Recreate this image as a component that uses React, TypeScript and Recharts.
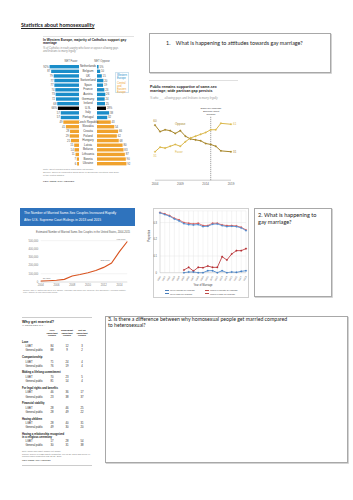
import React from 'react';
import { BarChart, Bar, XAxis, YAxis, Cell, LabelList, LineChart, Line, ReferenceLine, CartesianGrid } from 'recharts';

// Catholics in Europe / US: favor vs oppose same-sex marriage
const countries = ['Netherlands', 'Belgium', 'UK', 'Switzerland', 'Spain', 'France', 'Austria', 'Germany', 'Ireland', 'U.S.', 'Italy', 'Portugal', 'Czech Republic', 'Slovakia', 'Croatia', 'Poland', 'Hungary', 'Latvia', 'Belarus', 'Lithuania', 'Bosnia', 'Ukraine'];
const netFavor = [92, 87, 79, 77, 77, 74, 73, 72, 68, 66, 57, 57, 49, 41, 28, 29, 25, 15, 14, 11, 7, 6];
const netOppose = [5, 10, 15, 20, 19, 23, 26, 24, 25, 28, 38, 32, 43, 54, 66, 62, 68, 80, 83, 87, 90, 92];
const regionOf = ['W', 'W', 'W', 'W', 'W', 'W', 'W', 'W', 'W', 'US', 'W', 'W', 'E', 'E', 'E', 'E', 'E', 'E', 'E', 'E', 'E', 'E'];

// US public opinion trend
const pewYears = [2004, 2005, 2006, 2007, 2008, 2009, 2010, 2011, 2012, 2013, 2014, 2015, 2016, 2017, 2019];
const favorTrend = [31, 36, 35, 37, 39, 37, 42, 46, 48, 50, 52, 55, 55, 62, 61];
const opposeTrend = [60, 53, 55, 54, 51, 54, 48, 45, 44, 43, 40, 39, 37, 32, 31];

// married same-sex couples in the US
const marriageYears = [2004, 2005, 2006, 2007, 2008, 2009, 2010, 2011, 2012, 2013, 2014, 2015];
const marriedCouples = [10000, 15000, 22000, 32000, 73000, 90000, 113000, 140000, 177000, 230000, 367000, 490000];
const labelledYears = [2004, 2013, 2015];

// proportions by year of marriage
const ukYears = [2000, 2001, 2002, 2003, 2004, 2005, 2006, 2007, 2008, 2009, 2010, 2011, 2012, 2013, 2014, 2015, 2016, 2017, 2018];
const menOpposite = [0.358, 0.348, 0.338, 0.322, 0.31, 0.294, 0.288, 0.286, 0.288, 0.276, 0.278, 0.29, 0.292, 0.282, 0.276, 0.278, 0.276, 0.268, 0.252];
const womenOpposite = [0.36, 0.352, 0.342, 0.326, 0.316, 0.3, 0.296, 0.292, 0.296, 0.282, 0.282, 0.296, 0.296, 0.286, 0.282, 0.282, 0.28, 0.272, 0.256];
const menSame = [null, null, null, null, null, 0, 0.004, 0.004, 0, 0, 0.012, 0.012, 0, 0.012, 0, 0.004, 0.002, 0.008, 0.012];
const womenSame = [null, null, null, null, null, 0.016, 0.032, 0.01, 0.032, 0.03, 0.04, 0.032, 0.032, 0.096, 0.076, 0.112, 0.132, 0.132, 0.144];
const ukTicks = [0, 0.1, 0.2, 0.3];

// Why get married? table
const reasons = ['Love', 'Companionship', 'Making a lifelong commitment', 'For legal rights and benefits', 'Financial stability', 'Having children', 'Having a relationship recognized|in a religious ceremony'];
const lgbtVery = [84, 71, 70, 46, 28, 28, 17];
const lgbtSomewhat = [12, 24, 23, 36, 46, 40, 28];
const lgbtNot = [3, 4, 5, 17, 25, 31, 54];
const publicVery = [88, 76, 81, 23, 28, 49, 30];
const publicSomewhat = [9, 19, 14, 38, 49, 30, 31];
const publicNot = [2, 4, 4, 37, 22, 20, 38];

const BLUE = '#1a8dc9';
const ORANGE = '#f0a22d';
const OPPOSE = '#a7862a';
const FAVOR = '#dbb84b';
const W_FONT = 'Lato, "Open Sans", sans-serif';
const C_FONT = '"Liberation Sans", Arial, sans-serif';

const barData = countries.map((c, i) => ({
  country: c,
  favor: netFavor[i],
  oppose: netOppose[i],
  favorLabel: i === 0 || c === 'U.S.' ? netFavor[i] + '%' : String(netFavor[i]),
  opposeLabel: i === 0 || c === 'U.S.' ? netOppose[i] + '%' : String(netOppose[i]),
}));
const barColor = (r: string) => (r === 'W' ? BLUE : r === 'E' ? ORANGE : '#000');

const pewData = pewYears.map((y, i) => ({ year: y, favor: favorTrend[i], oppose: opposeTrend[i] }));
const marriageData = marriageYears.map((y, i) => ({ year: y, couples: marriedCouples[i] }));
const ukData = ukYears.map((y, i) => ({ year: y, mo: menOpposite[i], wo: womenOpposite[i], ms: menSame[i], ws: womenSame[i] }));

const box = (p: any) => {
  const vb = p.viewBox || {};
  return { x: vb.x ?? p.x, y: vb.y ?? p.y, w: vb.width ?? p.width ?? 0, h: vb.height ?? p.height ?? 0 };
};

function T({ x, y, size, color = '#222', bold = false, font = W_FONT, lh = 1.2, align = 'left', w, style, children }: any) {
  const lineH = size * lh;
  const st: React.CSSProperties = {
    position: 'absolute', top: y - lineH / 2, fontSize: size, lineHeight: lineH + 'px', color,
    fontWeight: bold ? 700 : 400, fontFamily: font, whiteSpace: 'nowrap', textAlign: align as any, ...style,
  };
  if (align === 'center') { st.left = x - (w ?? 60) / 2; st.width = w ?? 60; }
  else if (align === 'right') { st.left = x - (w ?? 60); st.width = w ?? 60; }
  else st.left = x;
  return <div style={st}>{children}</div>;
}

function CountryTick(props: any) {
  return (
    <text x={9} y={props.y} textAnchor="middle" dominantBaseline="central" fontSize={3} fill="#444" fontFamily={C_FONT}>
      {props.payload.value}
    </text>
  );
}

function YearTick(props: any) {
  return (
    <g transform={`translate(${props.x},${props.y})`}>
      <text transform="rotate(-60)" textAnchor="end" dominantBaseline="central" fontSize={2.3} fill="#555" fontFamily={C_FONT}>
        {props.payload.value}
      </text>
    </g>
  );
}

function CatholicChart() {
  return (
    <>
      <div style={{ position: 'absolute', left: 43, top: 35.5, width: 91, height: 1, background: '#e2e2e2' }} />
      <T x={43} y={40.5} size={3.3} bold font={C_FONT}>In Western Europe, majority of Catholics support gay</T>
      <T x={43} y={44.3} size={3.3} bold font={C_FONT}>marriage</T>
      <T x={43} y={48.6} size={2.6} color="#888" font={C_FONT} style={{ fontStyle: 'italic' }}>% of Catholics in each country who favor or oppose allowing gays</T>
      <T x={43} y={51.6} size={2.6} color="#888" font={C_FONT} style={{ fontStyle: 'italic' }}>and lesbians to marry legally</T>
      <T x={71} y={61.7} size={2.7} color="#555" font={C_FONT} align="center" w={20}>NET Favor</T>
      <T x={102} y={61.7} size={2.7} color="#555" font={C_FONT} align="center" w={20}>NET Oppose</T>

      <div style={{ position: 'absolute', left: 37, top: 64.4 }}>
        <BarChart layout="vertical" width={42} height={101.6} data={barData} margin={{ top: 0, right: 0, bottom: 0, left: 10 }}>
          <XAxis type="number" domain={[0, 100]} reversed hide />
          <YAxis type="category" dataKey="country" hide />
          <Bar dataKey="favor" barSize={3.4} isAnimationActive={false}>
            {barData.map((d, i) => <Cell key={d.country} fill={barColor(regionOf[i])} />)}
            <LabelList dataKey="favorLabel" content={(p: any) => {
              const b = box(p);
              return <text x={Math.min(b.x, b.x + b.w) - 0.8} y={b.y + b.h / 2} textAnchor="end" dominantBaseline="central" fontSize={2.8} fill="#555" fontFamily={C_FONT}>{p.value}</text>;
            }} />
          </Bar>
        </BarChart>
      </div>

      <div style={{ position: 'absolute', left: 79, top: 64.4 }}>
        <BarChart layout="vertical" width={61} height={101.6} data={barData} margin={{ top: 0, right: 11, bottom: 0, left: 0 }}>
          <XAxis type="number" domain={[0, 100]} hide />
          <YAxis type="category" dataKey="country" width={18} tick={CountryTick} tickLine={false} axisLine={false} interval={0} />
          <Bar dataKey="oppose" barSize={3.4} isAnimationActive={false}>
            {barData.map((d, i) => <Cell key={d.country} fill={barColor(regionOf[i])} />)}
            <LabelList dataKey="opposeLabel" content={(p: any) => {
              const b = box(p);
              return <text x={Math.max(b.x, b.x + b.w) + 0.8} y={b.y + b.h / 2} textAnchor="start" dominantBaseline="central" fontSize={2.8} fill="#555" fontFamily={C_FONT}>{p.value}</text>;
            }} />
          </Bar>
        </BarChart>
      </div>

      <div style={{ position: 'absolute', left: 115, top: 72, width: 14, height: 21, border: '0.5px solid #cfe3ef', boxSizing: 'border-box', padding: '1px 1px' }}>
        <div style={{ fontSize: 2.7, lineHeight: '3px', color: BLUE, fontFamily: C_FONT }}>Western<br />Europe</div>
        <div style={{ fontSize: 2.7, lineHeight: '3px', color: ORANGE, fontFamily: C_FONT, marginTop: 2 }}>Central<br />and Eastern<br />Europe</div>
      </div>

      <T x={43} y={170} size={2.4} color="#888" font={C_FONT}>Note: Don't know/refused responses not shown.</T>
      <T x={43} y={173} size={2.4} color="#888" font={C_FONT}>Source: Surveys conducted 2015-2017 in European countries and 2016</T>
      <T x={43} y={176} size={2.4} color="#888" font={C_FONT}>in the United States.</T>
      <T x={43} y={181.5} size={2.5} color="#333" font={C_FONT}>PEW RESEARCH CENTER</T>
    </>
  );
}

function TrendChart() {
  const last = pewData.length - 1;
  const endLabel = (color: string, above: boolean) => (p: any) => {
    const b = box(p);
    if (p.index === 0) {
      return <text x={b.x} y={b.y + (above ? -4.3 : 4.3)} textAnchor="middle" dominantBaseline="central" fontSize={3} fill={color} fontFamily={C_FONT}>{p.value}</text>;
    }
    if (p.index === last) {
      return <text x={b.x + 2} y={b.y} textAnchor="start" dominantBaseline="central" fontSize={3} fill={color} fontFamily={C_FONT}>{p.value}</text>;
    }
    return null;
  };
  return (
    <>
      <div style={{ position: 'absolute', left: 149, top: 79.5, width: 89, height: 1.5, background: '#e0e0e0' }} />
      <T x={150} y={87} size={3.6} bold font={C_FONT}>Public remains supportive of same-sex</T>
      <T x={150} y={91.5} size={3.6} bold font={C_FONT}>marriage; wide partisan gap persists</T>
      <T x={150} y={98.8} size={2.8} color="#999" font={C_FONT} style={{ fontStyle: 'italic' }}>% who ___ allowing gays and lesbians to marry legally</T>
      <T x={211} y={109.8} size={2.4} color="#333" font={C_FONT} align="center" w={30}>Same-sex marriage</T>
      <T x={211} y={112.4} size={2.4} color="#333" font={C_FONT} align="center" w={30}>Supreme Court</T>
      <T x={211} y={115} size={2.4} color="#333" font={C_FONT} align="center" w={30}>decision</T>

      <div style={{ position: 'absolute', left: 140, top: 105 }}>
        <LineChart width={105} height={84} data={pewData} margin={{ top: 11, right: 14, bottom: 0, left: 15 }}>
          <XAxis dataKey="year" type="number" domain={[2004, 2019]} ticks={[2004, 2009, 2014, 2019]} height={8.8}
            tick={{ fontSize: 3, fill: '#666', fontFamily: C_FONT }} tickLine={false} tickSize={1} tickMargin={2} axisLine={{ stroke: '#999', strokeWidth: 0.5 }} />
          <YAxis domain={[0, 70]} hide />
          <ReferenceLine x={2015} stroke="#444" strokeWidth={0.6} strokeDasharray="1 1" />
          <Line dataKey="oppose" stroke={OPPOSE} strokeWidth={1} dot={{ r: 0.8, fill: OPPOSE, stroke: OPPOSE, strokeWidth: 0.3 }} isAnimationActive={false}>
            <LabelList dataKey="oppose" content={endLabel(OPPOSE, true)} />
          </Line>
          <Line dataKey="favor" stroke={FAVOR} strokeWidth={1} dot={{ r: 0.8, fill: FAVOR, stroke: FAVOR, strokeWidth: 0.3 }} isAnimationActive={false}>
            <LabelList dataKey="favor" content={endLabel(FAVOR, false)} />
          </Line>
        </LineChart>
      </div>
      <T x={175} y={125} size={3} color={OPPOSE} font={C_FONT}>Oppose</T>
      <T x={175} y={152.7} size={3} color={FAVOR} font={C_FONT}>Favor</T>
    </>
  );
}

const narrow: React.CSSProperties = { transform: 'scaleX(0.8)', transformOrigin: 'left center' };

function MarriageChart() {
  return (
    <>
      <div style={{ position: 'absolute', left: 20, top: 207.5, width: 115, height: 18.5, background: '#2f73bd' }} />
      <T x={24} y={213} size={4.2} color="#fff" font={'"Liberation Sans Narrow", "Liberation Sans", sans-serif'} style={narrow}>The Number of Married Same-Sex Couples Increased Rapidly</T>
      <T x={24} y={219.5} size={4.2} color="#fff" font={'"Liberation Sans Narrow", "Liberation Sans", sans-serif'} style={narrow}>After U.S. Supreme Court Rulings in 2013 and 2015</T>
      <T x={83} y={232.3} size={2.6} color="#555" font={C_FONT} align="center" w={110}>Estimated Number of Married Same-Sex Couples in the United States, 2004-2015</T>

      <div style={{ position: 'absolute', left: 20, top: 236 }}>
        <LineChart width={115} height={52} data={marriageData} margin={{ top: 4.7, right: 7.7, bottom: 0, left: 0 }}>
          <CartesianGrid vertical={false} stroke="#e6e6e6" strokeWidth={0.5} />
          <XAxis dataKey="year" type="number" domain={[2004, 2015]} ticks={[2004, 2006, 2008, 2010, 2012, 2014]} height={6}
            tick={{ fontSize: 2.7, fill: '#777', fontFamily: C_FONT }} tickLine={false} tickSize={1} tickMargin={1.5} axisLine={{ stroke: '#ccc', strokeWidth: 0.5 }} />
          <YAxis domain={[0, 500000]} ticks={[0, 100000, 200000, 300000, 400000, 500000]} width={20.7}
            tickFormatter={(v: number) => v.toLocaleString('en-US')} tick={{ fontSize: 2.7, fill: '#777', fontFamily: C_FONT }}
            tickLine={false} axisLine={false} tickSize={1} tickMargin={1.5} />
          <Line dataKey="couples" stroke="#d8531f" strokeWidth={1.1} dot={false} isAnimationActive={false}>
            <LabelList dataKey="couples" content={(p: any) => {
              const b = box(p);
              const yr = marriageYears[p.index];
              if (!labelledYears.includes(yr)) return null;
              const first = p.index === 0;
              return <text x={first ? b.x + 2 : b.x - 2} y={b.y - 2.5} textAnchor={first ? 'start' : 'end'} dominantBaseline="central" fontSize={2.5} fill="#666" fontFamily={C_FONT}>{Number(p.value).toLocaleString('en-US')}</text>;
            }} />
          </Line>
        </LineChart>
      </div>
      <T x={23} y={289.8} size={2} color="#888" font={C_FONT}>Source: Gary J. Gates and Taylor N.T. Brown, "Marriage and Same-Sex Couples After Obergefell," Williams Institute,</T>
      <T x={23} y={292.3} size={2} color="#888" font={C_FONT}>UCLA School of Law (November 2015).</T>
    </>
  );
}

function ProportionChart() {
  const legend = [
    ['Men in opposite sex marriage', '#4a7ebb'], ['Women in opposite sex marriage', '#be4b48'],
    ['Men in same sex marriage', '#4a7ebb'], ['Women in same sex marriage', '#be4b48'],
  ];
  return (
    <>
      <div style={{ position: 'absolute', left: 153, top: 208, width: 96, height: 90, border: '0.6px solid #cfcfcf', boxSizing: 'border-box' }} />
      <div style={{ position: 'absolute', left: 141, top: 205 }}>
        <LineChart width={109} height={82} data={ukData} margin={{ top: 5.9, right: 4, bottom: 0, left: 0 }}>
          <CartesianGrid stroke="#e4e4e4" strokeWidth={0.4} />
          <XAxis dataKey="year" type="number" domain={[2000, 2018]} ticks={ukYears} interval={0} height={14.3} tick={YearTick}
            tickLine={false} tickSize={1} tickMargin={2.5} axisLine={{ stroke: '#bbb', strokeWidth: 0.4 }}
            label={{ value: 'Year of Marriage', position: 'insideBottom', offset: 1.4, fontSize: 2.6, fill: '#444', fontFamily: C_FONT }} />
          <YAxis domain={[0, 0.37]} ticks={ukTicks} width={19} tick={{ fontSize: 2.6, fill: '#555', fontFamily: C_FONT }}
            tickLine={false} axisLine={{ stroke: '#bbb', strokeWidth: 0.4 }} tickSize={1} tickMargin={2}
            label={{ value: 'Proportion', angle: -90, position: 'insideLeft', offset: 8, fontSize: 2.6, fill: '#444', fontFamily: C_FONT }} />
          <Line dataKey="wo" stroke="#d9534f" strokeWidth={0.8} dot={{ r: 0.8, fill: '#d9534f', stroke: '#d9534f', strokeWidth: 0.2 }} isAnimationActive={false} />
          <Line dataKey="mo" stroke="#4a8fd6" strokeWidth={0.8} dot={{ r: 0.8, fill: '#4a8fd6', stroke: '#4a8fd6', strokeWidth: 0.2 }} isAnimationActive={false} />
          <Line dataKey="ws" stroke="#b5282c" strokeWidth={0.8} dot={{ r: 0.8, fill: '#b5282c', stroke: '#b5282c', strokeWidth: 0.2 }} isAnimationActive={false} />
          <Line dataKey="ms" stroke="#3c7cc4" strokeWidth={0.8} dot={{ r: 0.8, fill: '#3c7cc4', stroke: '#3c7cc4', strokeWidth: 0.2 }} isAnimationActive={false} />
        </LineChart>
      </div>
      <div style={{ position: 'absolute', left: 165, top: 289.3, width: 78, display: 'grid', gridTemplateColumns: '37px 37px', rowGap: 1, columnGap: 3 }}>
        {legend.map(([name, c]) => (
          <div key={name} style={{ display: 'flex', alignItems: 'center', fontSize: 1.9, lineHeight: '2.2px', fontFamily: C_FONT, color: '#444', whiteSpace: 'nowrap' }}>
            <span style={{ display: 'inline-block', width: 4, height: 1.2, background: c, marginRight: 1 }} />{name}
          </div>
        ))}
      </div>
    </>
  );
}

function MarriageTable() {
  const cols = [52, 67, 82];
  const heads = [['Very', 'important', 'reason'], ['Somewhat', 'important', 'reason'], ['Not an', 'important', 'reason']];
  return (
    <>
      <div style={{ position: 'absolute', left: 22, top: 316.8, width: 70, height: 0.8, background: '#ccc' }} />
      <T x={22} y={322.5} size={3.8} bold font={C_FONT}>Why get married?</T>
      <T x={22} y={325.8} size={2.5} color="#555" font={C_FONT} style={{ fontStyle: 'italic' }}>% saying each is a ...</T>
      {heads.map((h, ci) => h.map((line, li) => (
        <T key={ci + '-' + li} x={cols[ci]} y={331.5 + li * 2.6} size={2.4} bold font={C_FONT} align="center" w={14}>{line}</T>
      )))}
      {reasons.map((r, i) => {
        const hy = 342.3 + 15.4 * i;
        const lines = r.split('|');
        const extra = (lines.length - 1) * 2.7;
        const rows = [
          ['LGBT', lgbtVery[i], lgbtSomewhat[i], lgbtNot[i]],
          ['General public', publicVery[i], publicSomewhat[i], publicNot[i]],
        ];
        return (
          <React.Fragment key={r}>
            {lines.map((l, li) => <T key={l} x={22} y={hy + li * 2.7} size={2.7} bold font={C_FONT} color="#111">{l}</T>)}
            {rows.map((row, ri) => (
              <React.Fragment key={String(row[0])}>
                <T x={25.5} y={hy + extra + 4.5 + ri * 4.2} size={2.7} color="#222" font={C_FONT}>{row[0]}</T>
                {cols.map((cx, ci) => (
                  <T key={ci} x={cx} y={hy + extra + 4.5 + ri * 4.2} size={2.7} color="#222" font={C_FONT} align="center" w={10}>{row[ci + 1]}</T>
                ))}
              </React.Fragment>
            ))}
          </React.Fragment>
        );
      })}
      <T x={22} y={451.7} size={2.1} color="#777" font={C_FONT}>Note: Those who didn't answer not shown.</T>
      <T x={22} y={454.2} size={2.1} color="#777" font={C_FONT}>Source: Survey of LGBT adults conducted April 11-29, 2013 and survey of</T>
      <T x={22} y={456.7} size={2.1} color="#777" font={C_FONT}>general public conducted May 23-26, 2013.</T>
      <T x={22} y={460.6} size={2.3} color="#333" font={C_FONT}>PEW RESEARCH CENTER</T>
      <div style={{ position: 'absolute', left: 22, top: 464.8, width: 70, height: 0.8, background: '#ccc' }} />
    </>
  );
}

const qBox: React.CSSProperties = {
  position: 'absolute', border: '0.8px solid #a8a8a8', boxShadow: '0.8px 0.8px 0 #c8c8c8', boxSizing: 'border-box', background: 'transparent',
};

export default function App() {
  return (
    <div style={{ position: 'fixed', left: 0, top: 0, width: 353, height: 500, background: '#fff', overflow: 'hidden', fontFamily: W_FONT }}>
      <T x={21} y={25} size={5.4} bold style={{ textDecoration: 'underline' }}>Statistics about homosexuality</T>

      <CatholicChart />

      <div style={{ ...qBox, left: 149, top: 33, width: 182, height: 39.5 }} />
      <T x={166} y={43} size={5.4}>1.&nbsp;&nbsp;&nbsp;&nbsp;What is happening to attitudes towards gay marriage?</T>

      <TrendChart />
      <MarriageChart />
      <ProportionChart />

      <div style={{ ...qBox, left: 254, top: 208, width: 78, height: 89 }} />
      <T x={258} y={215.5} size={5.6}>2. What is happening to</T>
      <T x={258} y={222.5} size={5.6}>gay marriage?</T>

      <MarriageTable />

      <div style={{ ...qBox, left: 105, top: 316, width: 243, height: 146.5 }} />
      <T x={108} y={319.5} size={5.2}>3. Is there a difference between why homosexual people get married compared</T>
      <T x={108} y={325.5} size={5.2}>to heterosexual?</T>
    </div>
  );
}
